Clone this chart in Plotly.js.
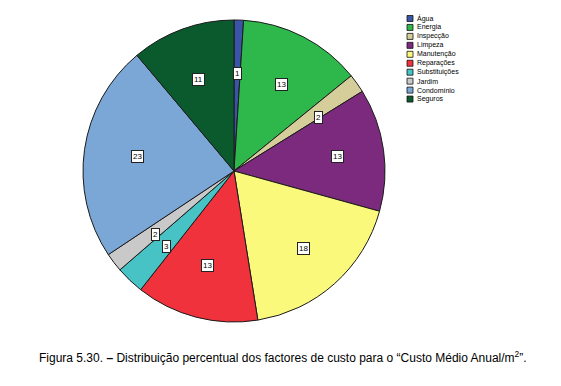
<!DOCTYPE html>
<html>
<head>
<meta charset="utf-8">
<script src="https://cdn.plot.ly/plotly-3.0.1.min.js"></script>
<style>html,body{margin:0;padding:0;background:#fff;}#chart{width:561px;height:386px;}</style>
</head>
<body>
<div id="chart"></div>
<script>
const categories = ["Água","Energia","Inspecção","Limpeza","Manutenção","Reparações","Substituições","Jardim","Condomínio","Seguros"];
const values = [1,13,2,13,18,13,3,2,23,11];
const colors = ["#3b55a6","#2eb84b","#d5cd9a","#7b2a7e","#fbf97b","#f0323c","#48c3c5","#c9c9c9","#7aa7d6","#0b5a2e"];

const W = 561, H = 386;
const cx = 234, cy = 171, r = 151;
const dom = {x:[(cx-r)/W,(cx+r)/W], y:[1-(cy+r)/H,1-(cy-r)/H]};

const annotations = [];
const shapes = [];
const total = values.reduce((a,b)=>a+b,0);
let cum = 0;
values.forEach((v,i)=>{
  const mid = (cum + v/2)/total*2*Math.PI;
  cum += v;
  const f = 0.69;
  annotations.push({
    xref:'paper', yref:'paper',
    x: (cx + f*r*Math.sin(mid))/W,
    y: 1 - (cy - f*r*Math.cos(mid))/H,
    text: String(v), showarrow:false,
    font:{family:'Arial, Liberation Sans', size:8, color:'#000'},
    bgcolor:'#ffffff', bordercolor:'#222', borderwidth:1, borderpad:1
  });
});

// legend
categories.forEach((c,i)=>{
  const top = 15.5 + i*8.95;
  shapes.push({type:'rect', xref:'paper', yref:'paper',
    x0:407/W, x1:413/W, y0:1-(top+6)/H, y1:1-top/H,
    fillcolor:colors[i], line:{color:'#111', width:0.8}});
  annotations.push({xref:'paper', yref:'paper', x:415/W, y:1-(top+3)/H,
    xanchor:'left', yanchor:'middle', text:c, showarrow:false,
    font:{family:'Arial, Liberation Sans', size:7, color:'#000'}});
});

annotations.push({xref:'paper', yref:'paper', x:37/W, y:1-357/H, xanchor:'left', yanchor:'middle',
  showarrow:false,
  text:'Figura 5.30. <b>–</b> Distribuição percentual dos factores de custo para o “Custo Médio Anual/m<sup>2</sup>”.',
  font:{family:'Arial, Liberation Sans', size:12, color:'#000'}});

const data = [{
  type:'pie', labels:categories, values:values, sort:false, direction:'clockwise', rotation:0,
  marker:{colors:colors, line:{color:'#1a1a1a', width:1}},
  textinfo:'none', hoverinfo:'label+value', domain:dom, showlegend:false
}];

const layout = {
  width:W, height:H, margin:{l:0,r:0,t:0,b:0},
  paper_bgcolor:'#fff', plot_bgcolor:'#fff', showlegend:false,
  annotations:annotations, shapes:shapes
};
Plotly.newPlot('chart', data, layout, {displayModeBar:false, staticPlot:true});
</script>
</body>
</html>
